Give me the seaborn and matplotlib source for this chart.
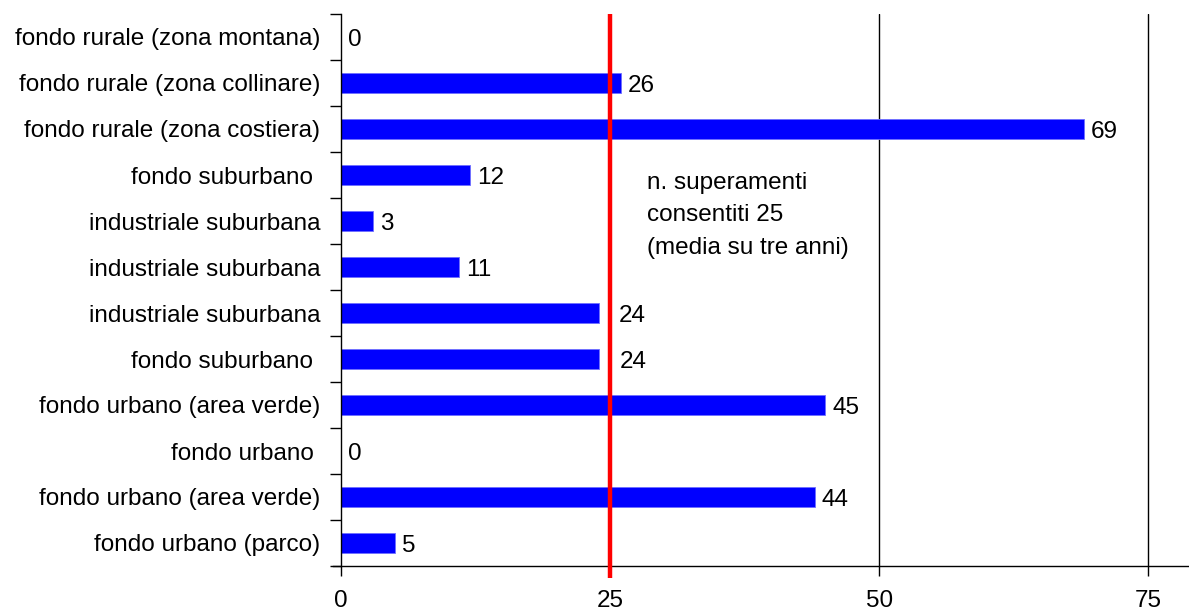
import matplotlib
matplotlib.use("Agg")
import matplotlib.pyplot as plt
import seaborn as sns
import pandas as pd

# Stations (type of site) and number of exceedances, top to bottom
stations = [
    "fondo rurale (zona montana)",
    "fondo rurale (zona collinare)",
    "fondo rurale (zona costiera)",
    "fondo suburbano ",
    "industriale suburbana",
    "industriale suburbana",
    "industriale suburbana",
    "fondo suburbano ",
    "fondo urbano (area verde)",
    "fondo urbano ",
    "fondo urbano (area verde)",
    "fondo urbano (parco)",
]
exceedances = [0, 26, 69, 12, 3, 11, 24, 24, 45, 0, 44, 5]
# horizontal offset (points) of each value label from its bar end
label_offsets = [5, 5, 5, 5, 5, 5, 14, 15, 5, 5, 5, 5]

limit_value = 25
limit_text = "n. superamenti\nconsentiti 25\n(media su tre anni)"
x_ticks = [0, 25, 50, 75]

# each station gets its own row even when the site type repeats
df = pd.DataFrame({"row": [f"s{i}" for i in range(len(stations))],
                   "n": exceedances})

sns.set_style("white")
plt.rcParams["font.family"] = ["Liberation Sans", "DejaVu Sans"]
FS = 17.5

fig = plt.figure(figsize=(11.89, 6.10), dpi=100)
ax = fig.add_axes([341 / 1189, 1 - 566 / 610, 1 - 341 / 1189, (566 - 14) / 610])

sns.barplot(data=df, x="n", y="row", orient="h", color="#0000FF",
            saturation=1, width=0.43, edgecolor="#6f6fff", linewidth=0.6,
            ax=ax)

ax.set_xlim(0, 78.8)
ax.set_ylim(len(stations) - 0.5, -0.5)

# value labels
for i, (v, off) in enumerate(zip(exceedances, label_offsets)):
    ax.annotate(str(v), xy=(v, i), xytext=(off, 0), textcoords="offset points",
                ha="left", va="center_baseline", fontsize=FS, color="black")

# grid lines
for t in x_ticks[1:]:
    ax.axvline(t, color="black", lw=1, zorder=0)

# limit line
ax.plot([limit_value, limit_value], [-0.5, len(stations) - 0.5 + 0.25],
        color="#FF0000", lw=3.2, clip_on=False, zorder=5,
        solid_capstyle="butt")
ax.text(28.45, 2.93, limit_text, ha="left", va="top", fontsize=FS,
        linespacing=1.62, color="black")

# axes styling
for s in ["top", "right"]:
    ax.spines[s].set_visible(False)
for s in ["left", "bottom"]:
    ax.spines[s].set_color("black")
    ax.spines[s].set_linewidth(1)
ax.spines["bottom"].set_bounds(-0.75, 78.8)

ax.set_xticks(x_ticks)
ax.set_xticklabels([str(t) for t in x_ticks])
ax.tick_params(axis="x", direction="out", length=7, width=1, color="black",
               pad=10, labelsize=FS, bottom=True, labelcolor="black")
ax.set_yticks(range(len(stations)))
ax.set_yticklabels(stations)
ax.tick_params(axis="y", which="major", length=0, pad=15, labelsize=FS,
               labelcolor="black")
ax.set_yticks([i - 0.5 for i in range(len(stations) + 1)], minor=True)
ax.tick_params(axis="y", which="minor", direction="out", length=8, width=1,
               color="black", left=True)

ax.set_xlabel("")
ax.set_ylabel("")

fig.savefig("out.png", dpi=100)
